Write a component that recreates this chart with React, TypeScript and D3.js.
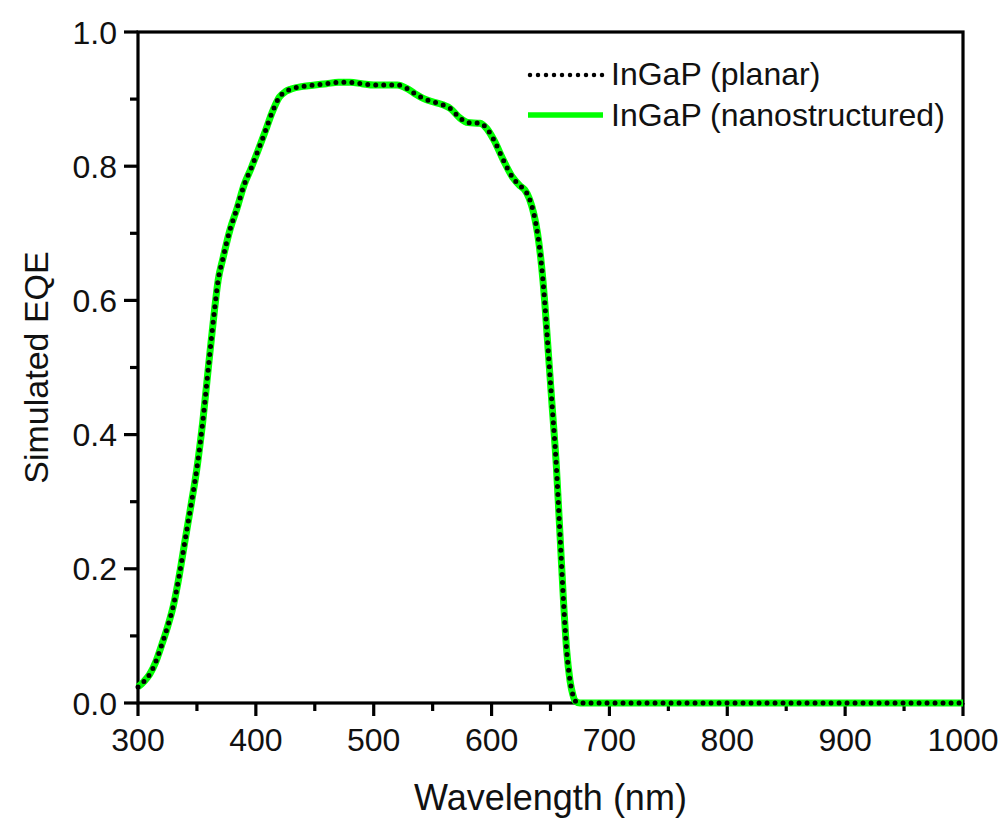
import React from "react";
import * as d3 from "d3";

// Wavelength (nm) and simulated EQE
const wavelengths = [
  300, 305, 310, 315, 320, 325, 330, 335, 340, 345, 350, 355, 360, 365, 368,
  372, 378, 384, 390, 396, 402, 408, 414, 420, 425, 430, 440, 450, 460, 470,
  480, 490, 500, 510, 520, 528, 535, 542, 550, 558, 565, 573, 580, 590, 596,
  602, 610, 618, 624, 628, 632, 636, 639, 642.5, 645, 647, 651, 655, 658, 661,
  663.7, 666.5, 669, 671, 675, 700, 800, 900, 1000,
];
const eqePlanar = [
  0.024, 0.032, 0.043, 0.061, 0.086, 0.113, 0.145, 0.19, 0.243, 0.295, 0.35,
  0.42, 0.505, 0.587, 0.63, 0.662, 0.705, 0.737, 0.772, 0.797, 0.824, 0.852,
  0.881, 0.903, 0.911, 0.915, 0.919, 0.921, 0.923, 0.925, 0.925, 0.923, 0.921,
  0.921, 0.921, 0.916, 0.908, 0.901, 0.896, 0.892, 0.886, 0.872, 0.865, 0.864,
  0.856, 0.839, 0.809, 0.783, 0.771, 0.765, 0.752, 0.728, 0.7, 0.65, 0.6,
  0.551, 0.452, 0.352, 0.253, 0.153, 0.079, 0.034, 0.012, 0.003, 0, 0, 0, 0, 0,
];
const eqeNano = [
  0.024, 0.032, 0.043, 0.061, 0.086, 0.113, 0.145, 0.19, 0.243, 0.295, 0.35,
  0.42, 0.505, 0.587, 0.63, 0.662, 0.705, 0.737, 0.772, 0.797, 0.824, 0.852,
  0.881, 0.903, 0.911, 0.915, 0.919, 0.921, 0.923, 0.925, 0.925, 0.923, 0.921,
  0.921, 0.921, 0.916, 0.908, 0.901, 0.896, 0.892, 0.886, 0.872, 0.865, 0.864,
  0.856, 0.839, 0.809, 0.783, 0.771, 0.765, 0.752, 0.728, 0.7, 0.65, 0.6,
  0.551, 0.452, 0.352, 0.253, 0.153, 0.079, 0.034, 0.012, 0.003, 0, 0, 0, 0, 0,
];
const xTicks = [300, 400, 500, 600, 700, 800, 900, 1000];
const xMinor = [350, 450, 550, 650, 750, 850, 950];
const yTicks = [0, 0.2, 0.4, 0.6, 0.8, 1.0];
const yMinor = [0.1, 0.3, 0.5, 0.7, 0.9];
const seriesNames = ["InGaP (planar)", "InGaP (nanostructured)"];

const W = 1006;
const H = 821;
const left = 138;
const right = 963;
const top = 32;
const bottom = 703;
const FONT = "Arial, 'Liberation Sans', sans-serif";

export default function App() {
  const x = d3.scaleLinear().domain([300, 1000]).range([left, right]);
  const y = d3.scaleLinear().domain([0, 1]).range([bottom, top]);
  const mk = (vals: number[]) =>
    d3
      .line<number>()
      .x((_, i) => x(wavelengths[i]))
      .y((v) => y(v))
      .curve(d3.curveMonotoneX)(vals) as string;

  return (
    <svg
      width={W}
      height={H}
      style={{ position: "absolute", left: 0, top: 0, background: "#fff" }}
      fontFamily={FONT}
    >
      <rect x={0} y={0} width={W} height={H} fill="#fff" />
      {/* frame */}
      <rect
        x={left}
        y={top}
        width={right - left}
        height={bottom - top}
        fill="none"
        stroke="#000"
        strokeWidth={3.2}
      />
      {/* x ticks */}
      {xTicks.map((t) => (
        <g key={"xt" + t}>
          <line x1={x(t)} x2={x(t)} y1={bottom} y2={bottom + 13} stroke="#000" strokeWidth={3.2} />
          <text x={x(t)} y={bottom + 48} textAnchor="middle" fontSize={32} fill="#111">
            {t}
          </text>
        </g>
      ))}
      {xMinor.map((t) => (
        <line key={"xm" + t} x1={x(t)} x2={x(t)} y1={bottom} y2={bottom + 8} stroke="#000" strokeWidth={3.2} />
      ))}
      {/* y ticks */}
      {yTicks.map((t) => (
        <g key={"yt" + t}>
          <line x1={left - 14} x2={left} y1={y(t)} y2={y(t)} stroke="#000" strokeWidth={3.2} />
          <text
            x={left - 21}
            y={y(t)}
            dy="0.36em"
            textAnchor="end"
            fontSize={32}
            fill="#111"
          >
            {t.toFixed(1)}
          </text>
        </g>
      ))}
      {yMinor.map((t) => (
        <line key={"ym" + t} x1={left - 8} x2={left} y1={y(t)} y2={y(t)} stroke="#000" strokeWidth={3.2} />
      ))}
      {/* axis titles */}
      <text x={(left + right) / 2} y={810} textAnchor="middle" fontSize={36} fill="#111">
        Wavelength (nm)
      </text>
      <text
        transform={`translate(48, ${(top + bottom) / 2}) rotate(-90)`}
        textAnchor="middle"
        fontSize={34}
        fill="#111"
      >
        Simulated EQE
      </text>
      {/* curves */}
      <path d={mk(eqeNano)} fill="none" stroke="#00ff00" strokeWidth={7} strokeLinejoin="round" />
      <path
        d={mk(eqePlanar)}
        fill="none"
        stroke="#000"
        strokeWidth={5}
        strokeDasharray="0 8"
        strokeLinecap="round"
      />
      {/* legend */}
      <line x1={530} x2={603} y1={75} y2={75} stroke="#000" strokeWidth={4.5} strokeDasharray="0 8" strokeLinecap="round" />
      <text x={611} y={85} fontSize={32} fill="#111">
        {seriesNames[0]}
      </text>
      <line x1={528} x2={603} y1={115} y2={115} stroke="#00ff00" strokeWidth={5.5} />
      <text x={611} y={126} fontSize={32} fill="#111">
        {seriesNames[1]}
      </text>
    </svg>
  );
}
